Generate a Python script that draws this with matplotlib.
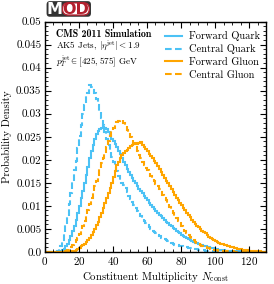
import numpy as np
import matplotlib
matplotlib.use("Agg")
import matplotlib.pyplot as plt
from matplotlib.patches import FancyBboxPatch
from matplotlib.ticker import MultipleLocator, FixedLocator, FixedFormatter

plt.rcParams["font.family"] = "serif"
plt.rcParams["font.serif"] = ["cmr10", "DejaVu Serif"]
plt.rcParams["mathtext.fontset"] = "cm"
plt.rcParams["axes.formatter.use_mathtext"] = True

# histogram contents, bin width 1, each series starts at its own first bin
cq_start = 7
central_quark = [
    0.0003, 0.0008, 0.0012, 0.0025, 0.0040, 0.0058, 0.0078, 0.0105, 0.0128, 0.0152,
    0.0178, 0.0198, 0.0225, 0.0252, 0.0275, 0.0300, 0.0318, 0.0340, 0.0345, 0.0362,
    0.0358, 0.0352, 0.0345, 0.0333, 0.0320, 0.0305, 0.0290, 0.0275, 0.0260, 0.0245,
    0.0232, 0.0220, 0.0207, 0.0195, 0.0185, 0.0175, 0.0165, 0.0157, 0.0150, 0.0145,
    0.0138, 0.0130, 0.0122, 0.0115, 0.0108, 0.0101, 0.0095, 0.0089, 0.0083, 0.0078,
    0.0072, 0.0067, 0.0063, 0.0058, 0.0054, 0.0050, 0.0046, 0.0043, 0.0040, 0.0037,
    0.0034, 0.0031, 0.0029, 0.0027, 0.0025, 0.0023, 0.0021, 0.0019, 0.0017, 0.0016,
    0.0015, 0.0014, 0.0013, 0.0012, 0.0011, 0.0010, 0.0010, 0.0009, 0.0009, 0.0008,
    0.0007, 0.0006, 0.0006, 0.0005, 0.0005, 0.0004, 0.0004, 0.0003, 0.0003, 0.0003,
    0.0002, 0.0002, 0.0002, 0.0002, 0.0001, 0.0001, 0.0001, 0.0001, 0.0001, 0.0001,
]

fq_start = 9
forward_quark = [
    0.0002, 0.0004, 0.0007, 0.0012, 0.0018, 0.0026, 0.0035, 0.0045, 0.0057, 0.0070,
    0.0085, 0.0100, 0.0117, 0.0133, 0.0150, 0.0168, 0.0185, 0.0203, 0.0218, 0.0232,
    0.0245, 0.0255, 0.0262, 0.0267, 0.0270, 0.0272, 0.0270, 0.0266, 0.0260, 0.0252,
    0.0245, 0.0240, 0.0234, 0.0227, 0.0220, 0.0212, 0.0204, 0.0196, 0.0188, 0.0181,
    0.0174, 0.0167, 0.0161, 0.0155, 0.0149, 0.0143, 0.0137, 0.0132, 0.0127, 0.0122,
    0.0117, 0.0112, 0.0107, 0.0102, 0.0097, 0.0093, 0.0089, 0.0085, 0.0081, 0.0077,
    0.0073, 0.0069, 0.0066, 0.0062, 0.0059, 0.0056, 0.0052, 0.0049, 0.0046, 0.0043,
    0.0040, 0.0037, 0.0035, 0.0032, 0.0030, 0.0028, 0.0026, 0.0024, 0.0022, 0.0020,
    0.0019, 0.0017, 0.0016, 0.0014, 0.0013, 0.0012, 0.0011, 0.0010, 0.0009, 0.0008,
    0.0008, 0.0007, 0.0006, 0.0005, 0.0005, 0.0004, 0.0004, 0.0003, 0.0003, 0.0003,
    0.0002, 0.0002, 0.0002, 0.0001, 0.0001, 0.0001, 0.0001,
]

cg_start = 12
central_gluon = [
    0.0002, 0.0004, 0.0007, 0.0010, 0.0014, 0.0019, 0.0025, 0.0031, 0.0038, 0.0047,
    0.0057, 0.0068, 0.0080, 0.0092, 0.0104, 0.0117, 0.0129, 0.0142, 0.0155, 0.0167,
    0.0180, 0.0192, 0.0203, 0.0215, 0.0227, 0.0240, 0.0252, 0.0262, 0.0270, 0.0276,
    0.0281, 0.0285, 0.0287, 0.0286, 0.0280, 0.0273, 0.0265, 0.0258, 0.0250, 0.0243,
    0.0235, 0.0227, 0.0219, 0.0211, 0.0203, 0.0196, 0.0189, 0.0183, 0.0177, 0.0171,
    0.0165, 0.0159, 0.0153, 0.0148, 0.0143, 0.0137, 0.0131, 0.0124, 0.0118, 0.0112,
    0.0105, 0.0098, 0.0092, 0.0085, 0.0079, 0.0073, 0.0067, 0.0062, 0.0056, 0.0051,
    0.0046, 0.0041, 0.0036, 0.0032, 0.0028, 0.0025, 0.0022, 0.0019, 0.0017, 0.0015,
    0.0013, 0.0011, 0.0010, 0.0009, 0.0008, 0.0007, 0.0006, 0.0005, 0.0004, 0.0004,
    0.0003, 0.0003, 0.0002, 0.0002, 0.0002, 0.0001, 0.0001, 0.0001, 0.0001,
]

fg_start = 15
forward_gluon = [
    0.0001, 0.0002, 0.0003, 0.0005, 0.0007, 0.0009, 0.0012, 0.0015, 0.0018, 0.0022,
    0.0026, 0.0031, 0.0037, 0.0043, 0.0050, 0.0058, 0.0066, 0.0075, 0.0085, 0.0095,
    0.0106, 0.0117, 0.0127, 0.0138, 0.0150, 0.0162, 0.0175, 0.0188, 0.0196, 0.0203,
    0.0210, 0.0215, 0.0220, 0.0222, 0.0226, 0.0229, 0.0231, 0.0234, 0.0236, 0.0235,
    0.0237, 0.0238, 0.0232, 0.0228, 0.0224, 0.0219, 0.0213, 0.0208, 0.0203, 0.0198,
    0.0192, 0.0186, 0.0180, 0.0174, 0.0167, 0.0161, 0.0155, 0.0149, 0.0142, 0.0136,
    0.0130, 0.0124, 0.0118, 0.0113, 0.0107, 0.0102, 0.0096, 0.0091, 0.0085, 0.0080,
    0.0075, 0.0070, 0.0065, 0.0061, 0.0057, 0.0053, 0.0049, 0.0046, 0.0043, 0.0040,
    0.0036, 0.0033, 0.0030, 0.0028, 0.0026, 0.0024, 0.0022, 0.0020, 0.0018, 0.0017,
    0.0015, 0.0014, 0.0013, 0.0012, 0.0011, 0.0010, 0.0009, 0.0008, 0.0007, 0.0006,
    0.0006, 0.0005, 0.0005, 0.0004, 0.0004, 0.0003, 0.0003, 0.0002, 0.0002, 0.0001,
    0.0001, 0.0001,
]

NBINS = 130
ytick_vals = [0.0, 0.005, 0.01, 0.015, 0.02, 0.025, 0.03, 0.035, 0.04, 0.045, 0.05]
ytick_labels = ["0.0", "0.005", "0.01", "0.015", "0.02", "0.025", "0.03",
                "0.035", "0.04", "0.045", "0.05"]


def full(start, vals):
    h = np.zeros(NBINS)
    h[start:start + len(vals)] = vals
    return h


BLUE = "#4cc2f5"
ORANGE = "#ffa500"
edges = np.arange(NBINS + 1)

fig = plt.figure(figsize=(2.74, 2.84), dpi=100)
ax = fig.add_axes([0.164, 0.113, 0.807, 0.811])

series = [
    ("Forward Quark", full(fq_start, forward_quark), BLUE, "-"),
    ("Central Quark", full(cq_start, central_quark), BLUE, (0, (3.2, 1.6))),
    ("Forward Gluon", full(fg_start, forward_gluon), ORANGE, "-"),
    ("Central Gluon", full(cg_start, central_gluon), ORANGE, (0, (3.2, 1.6))),
]
for name, h, col, ls in series:
    ax.stairs(h, edges, color=col, ls=ls, lw=1.5, label=name)

ax.set_xlim(0, 130)
ax.set_ylim(0, 0.05)
ax.xaxis.set_major_locator(MultipleLocator(20))
ax.xaxis.set_minor_locator(MultipleLocator(5))
ax.yaxis.set_major_locator(FixedLocator(ytick_vals))
ax.yaxis.set_major_formatter(FixedFormatter(ytick_labels))
ax.yaxis.set_minor_locator(MultipleLocator(0.001))
ax.tick_params(which="both", direction="in", top=True, right=True, labelsize=8)
ax.tick_params(which="major", length=4, width=0.8, pad=2.5)
ax.tick_params(which="minor", length=2, width=0.6)
for s in ax.spines.values():
    s.set_linewidth(1.0)

ax.set_xlabel(r"Constituent Multiplicity $N_{\rm const}$", fontsize=7.8, labelpad=2)
ax.set_ylabel("Probability Density", fontsize=7.8, labelpad=3)

ax.text(0.05, 0.945, "CMS 2011 Simulation", transform=ax.transAxes,
        fontsize=7.2, family="cmb10", va="center")
ax.text(0.05, 0.893, r"AK5 Jets, $|\eta^{\rm jet}| < 1.9$", transform=ax.transAxes,
        fontsize=6.6, va="center")
ax.text(0.05, 0.826, r"$p_T^{\rm jet} \in [425, 575]$ GeV", transform=ax.transAxes,
        fontsize=6.6, va="center")

leg = ax.legend(loc="upper right", bbox_to_anchor=(1.0, 0.985), frameon=False,
                fontsize=7.5, handlelength=1.6, handletextpad=0.7, labelspacing=0.3,
                borderaxespad=0.2)

# MOD logo
logo = FancyBboxPatch((0.170, 0.941), 0.162, 0.055, boxstyle="round,pad=0.0,rounding_size=0.012",
                      transform=fig.transFigure, fc="#333333", ec="none")
fig.patches.append(logo)
pill = FancyBboxPatch((0.228, 0.947), 0.098, 0.043, boxstyle="round,pad=0.0,rounding_size=0.021",
                      transform=fig.transFigure, fc="white", ec="#b3202e", lw=1.0)
fig.patches.append(pill)
fig.text(0.2, 0.968, "M", color="white", fontsize=11.5, fontweight="bold",
         family="DejaVu Sans", ha="center", va="center")
fig.text(0.277, 0.968, "OD", color="#b3202e", fontsize=11.5, fontweight="bold",
         family="DejaVu Sans", ha="center", va="center")

fig.savefig("out.png", dpi=100)
